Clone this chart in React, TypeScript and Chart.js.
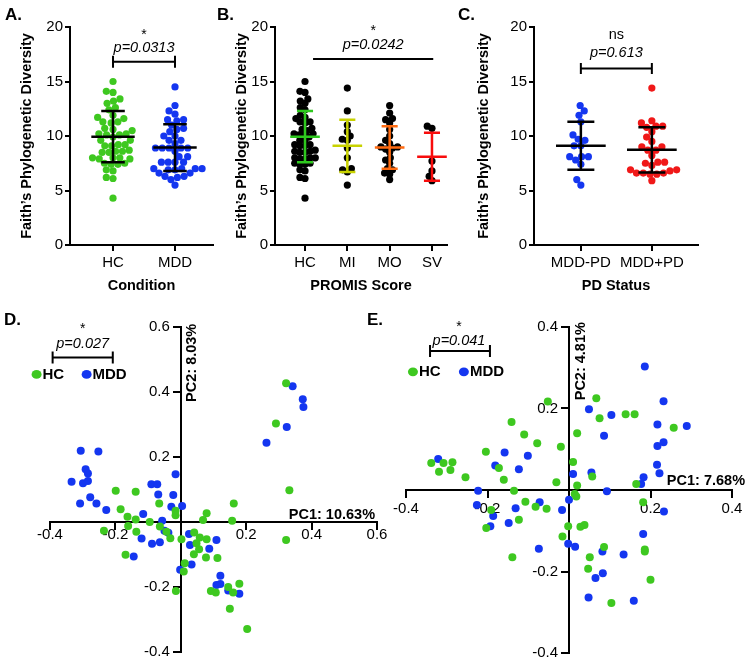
import React, { useEffect, useRef } from "react";
import { Chart, registerables } from "chart.js";

Chart.register(...registerables);

const FONT = "'Liberation Sans', Arial, Helvetica, sans-serif";
const GREEN = "#3ec820";
const BLUE = "#1436f0";
const RED = "#f01818";
const BLACK = "#000000";
const BAR_GREEN = "#2ec81e";
const BAR_YELLOW = "#c8d200";
const BAR_ORANGE = "#ff6a10";
const BAR_RED = "#f80c0c";

// ---------- Panel A: Faith's PD by condition ----------
const conditionCategories = ["HC", "MDD"];
const hcFaithPD = [
  15.0, 14.1, 14.0, 13.4, 13.2, 13.0, 12.6, 12.4, 11.9, 11.7, 11.6, 11.3, 11.3, 11.2,
  10.7, 10.6, 10.5, 10.2, 10.2, 10.1, 10.1, 9.9, 9.6, 9.6, 9.2, 9.2, 9.1, 9.1, 8.7,
  8.6, 8.6, 8.5, 8.5, 8.0, 8.0, 8.0, 7.9, 7.9, 7.5, 7.5, 7.4, 7.4, 6.9, 6.8, 6.2, 6.1, 4.3,
];
const mddFaithPD = [
  14.5, 12.8, 12.3, 12.0, 11.5, 11.5, 11.4, 11.0, 10.7, 10.6, 10.4, 10.0, 10.0, 9.6,
  9.6, 9.3, 8.9, 8.9, 8.9, 8.9, 8.9, 8.6, 8.1, 8.1, 7.6, 7.6, 7.6, 7.6, 7.0, 7.0, 7.0,
  7.0, 6.9, 6.9, 6.6, 6.6, 6.3, 6.3, 6.2, 6.0, 5.5,
];
const conditionMeans = [9.94, 8.94];
const conditionSDs = [2.35, 2.14];

// ---------- Panel B: Faith's PD by PROMIS score ----------
const promisCategories = ["HC", "MI", "MO", "SV"];
const miFaithPD = [14.4, 12.3, 11.0, 10.4, 10.0, 9.7, 9.6, 8.9, 8.0, 7.0, 6.9, 6.7, 5.5];
const moFaithPD = [
  12.8, 12.1, 11.6, 11.5, 11.2, 10.6, 10.0, 9.6, 9.3, 9.0, 9.0, 8.9, 8.8, 8.5, 8.0,
  7.8, 7.5, 7.0, 6.9, 6.6, 6.5, 6.0,
];
const svFaithPD = [10.9, 10.7, 7.7, 6.8, 6.3, 5.9];
const promisMeans = [9.94, 9.1, 8.95, 8.1];
const promisSDs = [2.35, 2.4, 1.95, 2.2];

// ---------- Panel C: Faith's PD by PD status ----------
const pdCategories = ["MDD-PD", "MDD+PD"];
const mddNoPdFaithPD = [12.8, 12.3, 11.9, 11.3, 10.1, 9.7, 9.6, 9.1, 9.1, 8.1, 8.1, 8.1, 7.8, 7.4, 6.0, 5.5];
const mddPdFaithPD = [
  14.4, 11.4, 11.2, 10.9, 10.9, 10.8, 10.4, 9.9, 9.5, 9.0, 9.0, 8.7, 8.7, 8.2, 7.6, 7.6,
  7.5, 7.3, 6.9, 6.9, 6.8, 6.6, 6.6, 6.6, 6.5, 6.5, 5.9,
];
const pdMeans = [9.1, 8.73];
const pdSDs = [2.2, 2.08];

// ---------- Panel D: PCA (PC1 10.63%, PC2 8.03%) ----------
const pcaD_HC: [number, number][] = [
  [0.322, 0.427], [0.291, 0.303], [0.332, 0.098], [-0.199, 0.096], [-0.138, 0.093], [-0.066, 0.057],
  [0.162, 0.057], [-0.184, 0.039], [-0.016, 0.035], [0.079, 0.027], [-0.163, 0.016], [-0.016, 0.021],
  [-0.138, 0.008], [0.068, 0.006], [0.157, 0.004], [-0.095, 0.0], [-0.161, -0.012], [-0.064, -0.014],
  [-0.235, -0.027], [-0.136, -0.03], [-0.044, -0.03], [0.041, -0.032], [-0.032, -0.05], [0.002, -0.053],
  [0.058, -0.048], [0.079, -0.053], [0.048, -0.065], [0.056, -0.084], [0.04, -0.099], [0.077, -0.109],
  [0.112, -0.111], [-0.169, -0.101], [0.012, -0.127], [0.009, -0.152], [-0.015, -0.212], [0.092, -0.212],
  [0.107, -0.217], [0.145, -0.2], [0.179, -0.19], [0.16, -0.217], [0.15, -0.267], [0.203, -0.329],
  [0.322, -0.055],
];
const pcaD_MDD: [number, number][] = [
  [0.342, 0.418], [0.373, 0.378], [0.375, 0.354], [0.324, 0.292], [0.262, 0.244], [-0.306, 0.219],
  [-0.252, 0.217], [-0.291, 0.162], [-0.284, 0.149], [-0.016, 0.147], [-0.334, 0.124], [-0.299, 0.119],
  [-0.284, 0.126], [-0.09, 0.116], [-0.072, 0.116], [-0.069, 0.085], [-0.023, 0.083], [-0.277, 0.076],
  [-0.308, 0.057], [-0.258, 0.057], [-0.029, 0.047], [0.004, 0.049], [-0.228, 0.037], [-0.115, 0.025],
  [-0.057, 0.004], [-0.05, -0.027], [-0.038, -0.033], [0.025, -0.037], [0.028, -0.071], [0.109, -0.055],
  [0.087, -0.082], [-0.12, -0.051], [-0.088, -0.067], [-0.064, -0.062], [-0.144, -0.106], [0.033, -0.131],
  [-0.002, -0.147], [0.121, -0.165], [0.121, -0.191], [0.109, -0.194], [0.145, -0.211], [0.179, -0.221],
];

// ---------- Panel E: PCA (PC1 7.68%, PC2 4.81%) ----------
const pcaE_HC: [number, number][] = [
  [0.067, 0.225], [-0.052, 0.217], [0.075, 0.176], [0.139, 0.186], [0.161, 0.186], [-0.141, 0.167],
  [0.257, 0.153], [0.02, 0.139], [-0.11, 0.136], [-0.078, 0.115], [-0.02, 0.106], [-0.204, 0.094],
  [-0.338, 0.066], [-0.308, 0.066], [-0.286, 0.068], [0.01, 0.069], [-0.319, 0.045], [-0.291, 0.049],
  [-0.172, 0.054], [-0.254, 0.031], [-0.16, 0.025], [0.057, 0.033], [-0.031, 0.019], [0.02, 0.011],
  [0.165, 0.015], [-0.135, -0.002], [0.014, -0.01], [0.018, -0.016], [0.182, -0.03], [-0.107, -0.029],
  [-0.082, -0.041], [-0.055, -0.046], [-0.191, -0.049], [-0.123, -0.073], [-0.203, -0.093], [-0.002, -0.089],
  [0.028, -0.09], [0.038, -0.086], [-0.016, -0.114], [0.086, -0.14], [0.186, -0.146], [0.186, -0.151],
  [-0.139, -0.165], [0.051, -0.165], [0.047, -0.193], [0.2, -0.22], [0.104, -0.277],
];
const pcaE_MDD: [number, number][] = [
  [0.186, 0.303], [0.232, 0.218], [0.049, 0.198], [0.104, 0.184], [0.217, 0.161], [0.289, 0.157],
  [0.086, 0.133], [0.232, 0.117], [0.217, 0.108], [-0.158, 0.092], [-0.101, 0.084], [-0.321, 0.076],
  [-0.181, 0.06], [0.216, 0.062], [-0.123, 0.051], [0.055, 0.043], [0.222, 0.041], [0.01, 0.039],
  [0.183, 0.031], [0.177, 0.015], [-0.223, -0.002], [0.093, -0.003], [0.0, -0.024], [-0.226, -0.037],
  [-0.072, -0.03], [-0.131, -0.045], [-0.017, -0.049], [0.233, -0.053], [-0.186, -0.064], [-0.148, -0.081],
  [-0.193, -0.089], [0.182, -0.108], [-0.002, -0.132], [0.015, -0.139], [-0.074, -0.144], [0.082, -0.151],
  [0.134, -0.158], [0.083, -0.204], [0.065, -0.216], [0.048, -0.264], [0.159, -0.272],
];

// ---------- helpers ----------
function beeswarm(values: number[], center: number, pxX: number, pxY: number, gap: number) {
  const order = values.map((_, i) => i).sort((a, b) => values[a] - values[b]);
  const placed: { dx: number; py: number }[] = [];
  const out: { x: number; y: number }[] = new Array(values.length);
  for (const i of order) {
    const py = values[i] * pxY;
    const intervals: [number, number][] = [];
    for (const p of placed) {
      const dy = Math.abs(py - p.py);
      if (dy < gap) {
        const w = Math.sqrt(gap * gap - dy * dy);
        intervals.push([p.dx - w, p.dx + w]);
      }
    }
    const cands = [0];
    intervals.forEach(([a, b]) => cands.push(a, b));
    cands.sort((a, b) => Math.abs(a) - Math.abs(b) || a - b);
    let chosen = 0;
    for (const c of cands) {
      if (intervals.every(([a, b]) => c <= a + 1e-6 || c >= b - 1e-6)) {
        chosen = c;
        break;
      }
    }
    placed.push({ dx: chosen, py });
    out[i] = { x: center + chosen / pxX, y: values[i] };
  }
  return out;
}

const f = (size: number, weight = "normal", style = "normal") => `${style} ${weight} ${size}px ${FONT}`;

type Note = { x: number; y: number; text: string; font: string; dy?: number };
type StripSpec = {
  width: number; height: number;
  plotLeft: number; plotRight: number; plotTop: number; plotBottom: number;
  xMin: number; xMax: number;
  categories: string[]; groups: number[][]; dotColors: string[]; barColors: string[];
  means: number[]; sds: number[];
  xTitle: string; yTitlePad: number; swarmGap: number;
  bracket: { x1: number; x2: number; y: number; leg: number };
  notes: Note[];
};

function makeStrip(canvas: HTMLCanvasElement, s: StripSpec) {
  const plotW = s.plotRight - s.plotLeft;
  const plotH = s.plotBottom - s.plotTop;
  const pxX = plotW / (s.xMax - s.xMin);
  const pxY = plotH / 20;
  const datasets = s.groups.map((g, i) => ({
    data: beeswarm(g, i + 1, pxX, pxY, s.swarmGap),
    backgroundColor: s.dotColors[i],
    borderWidth: 0,
    pointRadius: 3.6,
    pointHoverRadius: 3.6,
  }));
  const anno = {
    id: "stripAnno",
    afterDatasetsDraw(chart: any) {
      const ctx = chart.ctx;
      const xs = chart.scales.x;
      const ys = chart.scales.y;
      ctx.save();
      ctx.lineCap = "butt";
      s.means.forEach((m, i) => {
        const cx = xs.getPixelForValue(i + 1);
        const half = 0.35 * pxX;
        const cap = 0.19 * pxX;
        const ym = ys.getPixelForValue(m);
        const yl = ys.getPixelForValue(m - s.sds[i]);
        const yh = ys.getPixelForValue(m + s.sds[i]);
        ctx.strokeStyle = s.barColors[i];
        ctx.lineWidth = 2.5;
        ctx.beginPath();
        ctx.moveTo(cx - half, ym); ctx.lineTo(cx + half, ym);
        ctx.moveTo(cx, yl); ctx.lineTo(cx, yh);
        ctx.moveTo(cx - cap, yl); ctx.lineTo(cx + cap, yl);
        ctx.moveTo(cx - cap, yh); ctx.lineTo(cx + cap, yh);
        ctx.stroke();
      });
      const b = s.bracket;
      const bx1 = xs.getPixelForValue(b.x1);
      const bx2 = xs.getPixelForValue(b.x2);
      const by = ys.getPixelForValue(b.y);
      ctx.strokeStyle = BLACK;
      ctx.lineWidth = 2;
      ctx.beginPath();
      ctx.moveTo(bx1, by); ctx.lineTo(bx2, by);
      if (b.leg > 0) {
        ctx.moveTo(bx1, by - b.leg); ctx.lineTo(bx1, by + b.leg);
        ctx.moveTo(bx2, by - b.leg); ctx.lineTo(bx2, by + b.leg);
      }
      ctx.stroke();
      ctx.fillStyle = BLACK;
      ctx.textAlign = "center";
      ctx.textBaseline = "middle";
      s.notes.forEach((n) => {
        ctx.font = n.font;
        ctx.fillText(n.text, xs.getPixelForValue(n.x), ys.getPixelForValue(n.y) + (n.dy || 0));
      });
      ctx.restore();
    },
  };
  return new Chart(canvas, {
    type: "scatter",
    data: { datasets } as any,
    options: {
      animation: false,
      responsive: false,
      events: [],
      layout: { padding: { left: 0, top: s.plotTop, right: s.width - s.plotRight, bottom: 0 } },
      plugins: { legend: { display: false }, tooltip: { enabled: false } },
      scales: {
        x: {
          type: "linear",
          min: s.xMin,
          max: s.xMax,
          afterFit: (sc: any) => { sc.height = s.height - s.plotBottom; },
          afterBuildTicks: (sc: any) => { sc.ticks = s.categories.map((_, i) => ({ value: i + 1 })); },
          ticks: {
            callback: (v: any) => s.categories[Math.round(Number(v)) - 1] ?? "",
            color: BLACK,
            font: { family: FONT, size: 15 },
            padding: 3,
            maxRotation: 0,
            autoSkip: false,
          },
          grid: { drawOnChartArea: false, drawTicks: true, tickLength: 6, color: BLACK, lineWidth: 2 },
          border: { display: true, color: BLACK, width: 2 },
          title: {
            display: true,
            text: s.xTitle,
            color: BLACK,
            font: { family: FONT, size: 14.5, weight: "bold" },
            padding: { top: 0, bottom: 5 },
          },
        },
        y: {
          type: "linear",
          min: 0,
          max: 20,
          afterFit: (sc: any) => { sc.width = s.plotLeft; },
          ticks: { stepSize: 5, color: BLACK, font: { family: FONT, size: 15 }, padding: 2 },
          grid: { drawOnChartArea: false, drawTicks: true, tickLength: 5, color: BLACK, lineWidth: 2 },
          border: { display: true, color: BLACK, width: 2 },
          title: {
            display: true,
            text: "Faith\u2019s Phylogenetic Diversity",
            color: BLACK,
            font: { family: FONT, size: 14.5, weight: "bold" },
            padding: { top: s.yTitlePad, bottom: 0 },
          },
        },
      },
    } as any,
    plugins: [anno],
  });
}

type PcaSpec = {
  pad: { left: number; right: number; top: number; bottom: number };
  xMin: number; xMax: number; yMin: number; yMax: number;
  hc: [number, number][]; mdd: [number, number][];
  pc1: string; pc1Right: number; pc1Lift: number;
  pc2: string; pc2Top: number; pc2Offset: number;
  sigX: number; starY: number; pText: string; pY: number;
  bracket: { x1: number; x2: number; y: number };
  legend: { y: number; hcDot: number; hcText: number; mddDot: number; mddText: number };
  xTickPad: number; yLabelGap: number;
};

const tickText = (v: number) => (Math.abs(v) < 1e-9 ? "" : v.toFixed(1));

function makePca(canvas: HTMLCanvasElement, s: PcaSpec) {
  const anno = {
    id: "pcaAnno",
    afterDatasetsDraw(chart: any) {
      const ctx = chart.ctx;
      const xs = chart.scales.x;
      const ys = chart.scales.y;
      const ox = xs.getPixelForValue(0);
      const oy = ys.getPixelForValue(0);
      ctx.save();
      ctx.fillStyle = BLACK;
      // y tick labels, left of the crossing axis
      ctx.font = f(15);
      ctx.textAlign = "right";
      ctx.textBaseline = "middle";
      ys.ticks.forEach((t: any) => {
        const txt = tickText(t.value);
        if (txt) ctx.fillText(txt, ox - s.yLabelGap, ys.getPixelForValue(t.value));
      });
      // axis titles
      ctx.font = f(14.5, "bold");
      ctx.textAlign = "right";
      ctx.textBaseline = "alphabetic";
      ctx.fillText(s.pc1, xs.getPixelForValue(s.pc1Right), oy - s.pc1Lift);
      ctx.save();
      ctx.translate(ox + s.pc2Offset, ys.getPixelForValue(s.pc2Top));
      ctx.rotate(-Math.PI / 2);
      ctx.textAlign = "right";
      ctx.textBaseline = "middle";
      ctx.fillText(s.pc2, 0, 0);
      ctx.restore();
      // significance
      const sx = xs.getPixelForValue(s.sigX);
      ctx.textAlign = "center";
      ctx.textBaseline = "middle";
      ctx.font = f(14);
      ctx.fillText("*", sx, ys.getPixelForValue(s.starY) + 3);
      ctx.font = f(14.5, "normal", "italic");
      ctx.fillText(s.pText, sx, ys.getPixelForValue(s.pY));
      const bx1 = xs.getPixelForValue(s.bracket.x1);
      const bx2 = xs.getPixelForValue(s.bracket.x2);
      const by = ys.getPixelForValue(s.bracket.y);
      ctx.strokeStyle = BLACK;
      ctx.lineWidth = 2;
      ctx.beginPath();
      ctx.moveTo(bx1, by); ctx.lineTo(bx2, by);
      ctx.moveTo(bx1, by - 6); ctx.lineTo(bx1, by + 6);
      ctx.moveTo(bx2, by - 6); ctx.lineTo(bx2, by + 6);
      ctx.stroke();
      // legend
      const ly = ys.getPixelForValue(s.legend.y);
      ctx.fillStyle = GREEN;
      ctx.beginPath();
      ctx.ellipse(xs.getPixelForValue(s.legend.hcDot), ly, 5, 4.4, 0, 0, Math.PI * 2);
      ctx.fill();
      ctx.fillStyle = BLUE;
      ctx.beginPath();
      ctx.ellipse(xs.getPixelForValue(s.legend.mddDot), ly, 5, 4.4, 0, 0, Math.PI * 2);
      ctx.fill();
      ctx.fillStyle = BLACK;
      ctx.font = f(15, "bold");
      ctx.textAlign = "left";
      ctx.fillText("HC", xs.getPixelForValue(s.legend.hcText), ly);
      ctx.fillText("MDD", xs.getPixelForValue(s.legend.mddText), ly);
      ctx.restore();
    },
  };
  return new Chart(canvas, {
    type: "scatter",
    data: {
      datasets: [
        { data: s.hc.map(([x, y]) => ({ x, y })), backgroundColor: GREEN, borderWidth: 0, pointRadius: 4, pointHoverRadius: 4 },
        { data: s.mdd.map(([x, y]) => ({ x, y })), backgroundColor: BLUE, borderWidth: 0, pointRadius: 4, pointHoverRadius: 4 },
      ],
    } as any,
    options: {
      animation: false,
      responsive: false,
      events: [],
      layout: { padding: s.pad },
      plugins: { legend: { display: false }, tooltip: { enabled: false } },
      scales: {
        x: {
          type: "linear",
          position: { y: 0 },
          min: s.xMin,
          max: s.xMax,
          ticks: {
            stepSize: 0.2,
            callback: (v: any) => tickText(Number(v)),
            color: BLACK,
            font: { family: FONT, size: 15 },
            padding: s.xTickPad,
            maxRotation: 0,
            autoSkip: false,
          },
          grid: { drawOnChartArea: false, drawTicks: true, tickLength: 7, color: BLACK, lineWidth: 2 },
          border: { display: true, color: BLACK, width: 2 },
        },
        y: {
          type: "linear",
          position: { x: 0 },
          min: s.yMin,
          max: s.yMax,
          ticks: { stepSize: 0.2, display: false },
          grid: { drawOnChartArea: false, drawTicks: true, tickLength: 7, color: BLACK, lineWidth: 2 },
          border: { display: true, color: BLACK, width: 2 },
        },
      },
    } as any,
    plugins: [anno],
  });
}

const specA: StripSpec = {
  width: 240, height: 300, plotLeft: 70, plotRight: 213, plotTop: 27, plotBottom: 245,
  xMin: 0.306, xMax: 2.613,
  categories: conditionCategories, groups: [hcFaithPD, mddFaithPD],
  dotColors: [GREEN, BLUE], barColors: [BLACK, BLACK],
  means: conditionMeans, sds: conditionSDs,
  xTitle: "Condition", yTitlePad: 18.3, swarmGap: 6.8,
  bracket: { x1: 1, x2: 2, y: 16.82, leg: 6 },
  notes: [
    { x: 1.5, y: 19.57, text: "*", font: f(14), dy: 3 },
    { x: 1.5, y: 18.04, text: "p=0.0313", font: f(14.5, "normal", "italic") },
  ],
};

const specB: StripSpec = {
  width: 255, height: 300, plotLeft: 50, plotRight: 222, plotTop: 27, plotBottom: 245,
  xMin: 0.291, xMax: 4.355,
  categories: promisCategories, groups: [hcFaithPD, miFaithPD, moFaithPD, svFaithPD],
  dotColors: [BLACK, BLACK, BLACK, BLACK], barColors: [BAR_GREEN, BAR_YELLOW, BAR_ORANGE, BAR_RED],
  means: promisMeans, sds: promisSDs,
  xTitle: "PROMIS Score", yTitlePad: 8.3, swarmGap: 5.2,
  bracket: { x1: 1.19, x2: 4.03, y: 17.06, leg: 0 },
  notes: [
    { x: 2.61, y: 19.9, text: "*", font: f(14), dy: 3 },
    { x: 2.61, y: 18.35, text: "p=0.0242", font: f(14.5, "normal", "italic") },
  ],
};

const specC: StripSpec = {
  width: 290, height: 300, plotLeft: 74, plotRight: 238, plotTop: 27, plotBottom: 245,
  xMin: 0.34, xMax: 2.65,
  categories: pdCategories, groups: [mddNoPdFaithPD, mddPdFaithPD],
  dotColors: [BLUE, RED], barColors: [BLACK, BLACK],
  means: pdMeans, sds: pdSDs,
  xTitle: "PD Status", yTitlePad: 15.3, swarmGap: 6.8,
  bracket: { x1: 1, x2: 2, y: 16.2, leg: 5.5 },
  notes: [
    { x: 1.5, y: 19.27, text: "ns", font: f(14.5) },
    { x: 1.5, y: 17.6, text: "p=0.613", font: f(14.5, "normal", "italic") },
  ],
};

const specD: PcaSpec = {
  pad: { left: 50, right: 23, top: 17, bottom: 9 },
  xMin: -0.4, xMax: 0.6, yMin: -0.4, yMax: 0.6,
  hc: pcaD_HC, mdd: pcaD_MDD,
  pc1: "PC1: 10.63%", pc1Right: 0.594, pc1Lift: 3,
  pc2: "PC2: 8.03%", pc2Top: 0.61, pc2Offset: 11,
  sigX: -0.3, starY: 0.604, pText: "p=0.027", pY: 0.549,
  bracket: { x1: -0.392, x2: -0.208, y: 0.506 },
  legend: { y: 0.454, hcDot: -0.441, hcText: -0.423, mddDot: -0.288, mddText: -0.27 },
  xTickPad: -3, yLabelGap: 11,
};

const specE: PcaSpec = {
  pad: { left: 36, right: 18, top: 17, bottom: 8 },
  xMin: -0.4, xMax: 0.4, yMin: -0.4, yMax: 0.4,
  hc: pcaE_HC, mdd: pcaE_MDD,
  pc1: "PC1: 7.68%", pc1Right: 0.432, pc1Lift: 5,
  pc2: "PC2: 4.81%", pc2Top: 0.412, pc2Offset: 12,
  sigX: -0.27, starY: 0.407, pText: "p=0.041", pY: 0.366,
  bracket: { x1: -0.341, x2: -0.194, y: 0.341 },
  legend: { y: 0.29, hcDot: -0.383, hcText: -0.368, mddDot: -0.258, mddText: -0.243 },
  xTickPad: 3, yLabelGap: 11,
};

const panelLabel = (text: string, left: number, baseline: number) => (
  <div
    key={text}
    style={{
      position: "absolute",
      left,
      top: baseline - 14.4,
      font: `bold 17px ${FONT}`,
      lineHeight: "17px",
      color: BLACK,
      whiteSpace: "nowrap",
    }}
  >
    {text}
  </div>
);

export default function App() {
  const refA = useRef<HTMLCanvasElement>(null);
  const refB = useRef<HTMLCanvasElement>(null);
  const refC = useRef<HTMLCanvasElement>(null);
  const refD = useRef<HTMLCanvasElement>(null);
  const refE = useRef<HTMLCanvasElement>(null);

  useEffect(() => {
    const charts = [
      makeStrip(refA.current!, specA),
      makeStrip(refB.current!, specB),
      makeStrip(refC.current!, specC),
      makePca(refD.current!, specD),
      makePca(refE.current!, specE),
    ];
    return () => charts.forEach((c) => c.destroy());
  }, []);

  const cv = (ref: any, left: number, top: number, w: number, h: number) => (
    <canvas ref={ref} width={w} height={h} style={{ position: "absolute", left, top, width: w, height: h }} />
  );

  return (
    <div style={{ position: "absolute", left: 0, top: 0, width: 750, height: 661, background: "#fff", overflow: "hidden" }}>
      {cv(refA, 0, 0, 240, 300)}
      {cv(refB, 225, 0, 255, 300)}
      {cv(refC, 460, 0, 290, 300)}
      {cv(refD, 0, 310, 400, 351)}
      {cv(refE, 370, 310, 380, 351)}
      {panelLabel("A.", 5, 20)}
      {panelLabel("B.", 217, 20)}
      {panelLabel("C.", 458, 20)}
      {panelLabel("D.", 4, 325)}
      {panelLabel("E.", 367, 325)}
    </div>
  );
}
